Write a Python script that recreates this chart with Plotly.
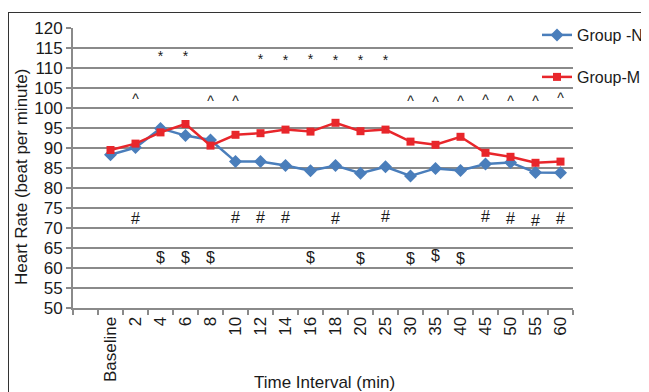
import plotly.graph_objects as go

# ---------------- data ----------------
categories = [" ", "Baseline", "2", "4", "6", "8", "10", "12", "14", "16", "18",
              "20", "25", "30", "35", "40", "45", "50", "55", "60"]
time_points = categories[1:]

group_n = [88.3, 90.1, 94.9, 93.1, 92.0, 86.6, 86.6, 85.6, 84.3, 85.6,
           83.7, 85.3, 83.0, 84.9, 84.4, 86.0, 86.4, 83.9, 83.8]
group_m = [89.5, 91.1, 93.9, 96.0, 90.6, 93.3, 93.7, 94.6, 94.1, 96.3,
           94.2, 94.6, 91.6, 90.8, 92.8, 88.8, 87.8, 86.3, 86.6]

star_x = ["4", "6", "12", "14", "16", "18", "20", "25"]
star_y = [112.6, 112.6, 111.9, 111.7, 111.9, 111.7, 111.7, 111.7]

caret_x = ["2", "8", "10", "30", "35", "40", "45", "50", "55", "60"]
caret_y = [102.0, 101.5, 101.5, 101.5, 101.2, 101.5, 101.7, 101.5, 101.5, 102.2]

hash_x = ["2", "10", "12", "14", "18", "25", "45", "50", "55", "60"]
hash_y = [72.0, 72.2, 72.2, 72.2, 72.0, 72.4, 72.4, 72.0, 71.5, 72.0]

dollar_x = ["4", "6", "8", "16", "20", "30", "35", "40"]
dollar_y = [62.3, 62.3, 62.3, 62.3, 62.0, 62.0, 62.7, 62.0]

y_ticks = list(range(50, 121, 5))

# ---------------- style ----------------
BLUE = "#4A7EBB"
RED = "#E8262B"
GRID = "#8A8A8A"
TXT = "#1a1a1a"
FONT = "Liberation Sans, Arial, sans-serif"

OFF = 8  # page body margin of the html page
W, H = 649 - OFF, 392 - OFF
ML, MT = 73 - OFF, 28 - OFF
MR = W - (573 - OFF)
MB = H - (308 - OFF)
PW, PH = W - ML - MR, H - MT - MB


def px_x(p):
    return (p - OFF - ML) / PW


def px_y(p):
    return (H - MB - (p - OFF)) / PH


fig = go.Figure()

fig.add_trace(go.Scatter(
    x=time_points, y=group_n, name="Group -N", mode="lines+markers",
    line=dict(color=BLUE, width=2.5),
    marker=dict(symbol="diamond", size=10, color=BLUE),
    legend="legend"))
fig.add_trace(go.Scatter(
    x=time_points, y=group_m, name="Group-M", mode="lines+markers",
    line=dict(color=RED, width=2.5),
    marker=dict(symbol="square", size=8, color=RED),
    legend="legend2"))

for xs, ys, sym, size in [(star_x, star_y, "*", 14),
                          (caret_x, caret_y, "^", 14),
                          (hash_x, hash_y, "#", 16),
                          (dollar_x, dollar_y, "$", 16)]:
    fig.add_trace(go.Scatter(
        x=xs, y=ys, mode="text", text=[sym] * len(xs),
        textposition="middle center",
        textfont=dict(family=FONT, size=size, color=TXT),
        showlegend=False, hoverinfo="skip"))

fig.update_xaxes(
    type="category", categoryorder="array", categoryarray=categories,
    range=[-0.5, len(categories) - 0.5], automargin=False,
    tickson="boundaries", ticks="outside", ticklen=5, tickwidth=2, tickcolor=GRID,
    showline=True, linecolor=GRID, linewidth=2,
    showgrid=False, zeroline=False,
    tickangle=-90, tickfont=dict(family=FONT, size=17, color=TXT))

fig.update_yaxes(
    range=[50, 120], tickvals=y_ticks, ticks="outside", ticklen=5, tickwidth=2,
    tickcolor=GRID, showline=True, linecolor=GRID, linewidth=2, automargin=False,
    showgrid=True, gridcolor=GRID, gridwidth=2, zeroline=False,
    tickfont=dict(family=FONT, size=17, color=TXT))

fig.add_annotation(text="Time Interval (min)", xref="paper", yref="paper",
                   x=px_x(324), y=px_y(382), xanchor="center", yanchor="middle",
                   showarrow=False, font=dict(family=FONT, size=17, color=TXT))
fig.add_annotation(text="Heart Rate (beat per minute)", xref="paper", yref="paper",
                   x=px_x(21), y=px_y(177), xanchor="center", yanchor="middle",
                   textangle=-90, showarrow=False,
                   font=dict(family=FONT, size=17, color=TXT))

# outer frame (left and top edges)
fig.add_shape(type="line", xref="paper", yref="paper",
              x0=px_x(8.5), x1=px_x(8.5), y0=px_y(12), y1=px_y(400),
              line=dict(color="#333333", width=1))
fig.add_shape(type="line", xref="paper", yref="paper",
              x0=px_x(8.5), x1=px_x(660), y0=px_y(12.5), y1=px_y(12.5),
              line=dict(color="#333333", width=1))

leg_common = dict(font=dict(family=FONT, size=16, color=TXT),
                  bgcolor="rgba(0,0,0,0)", borderwidth=0,
                  xanchor="left", yanchor="middle", itemwidth=30)
fig.update_layout(
    width=W, height=H,
    margin=dict(l=ML, r=MR, t=MT, b=MB, pad=0, autoexpand=False),
    paper_bgcolor="white", plot_bgcolor="white",
    legend=dict(x=px_x(537), y=px_y(35), **leg_common),
    legend2=dict(x=px_x(537), y=px_y(77), **leg_common),
)

fig.write_html("out.html")
